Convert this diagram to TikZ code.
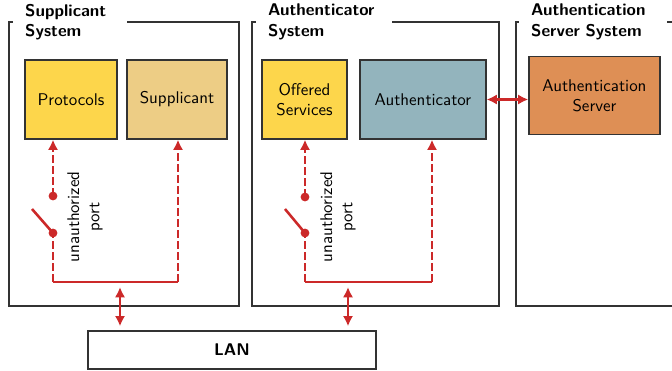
\documentclass[tikz,border=0pt]{standalone}
\usetikzlibrary{arrows.meta, positioning, calc}
\definecolor{portred}{RGB}{204,41,41}
\definecolor{sunyellow}{RGB}{253,214,75}
\definecolor{sandbeige}{RGB}{237,205,133}
\definecolor{steelgray}{RGB}{147,180,189}
\definecolor{serverorange}{RGB}{222,143,85}
\definecolor{framegray}{RGB}{51,51,51}

\begin{document}
\begin{tikzpicture}[
    x=0.59pt, y=-0.59pt,
    font=\sffamily,
    % styles
    sysframe/.style={
        draw=framegray, line width=0.8pt, fill=white
    },
    systitle/.style={
        fill=white, font=\sffamily\bfseries, align=left, anchor=west, inner xsep=7pt, inner ysep=1pt
    },
    unit/.style={
        draw=framegray, line width=0.8pt, align=center, minimum height=46.6pt
    },
    port_flow/.style={
        portred, line width=1.5pt, dash pattern=on 4.5pt off 2pt, -{Latex[length=6pt,width=6pt]}
    },
    port_line/.style={
        portred, line width=1.5pt
    },
    link/.style={
        portred, line width=1.5pt, {Latex[length=6pt,width=6pt]}-{Latex[length=6pt,width=6pt]}
    },
    contact/.style={
        fill=portred, portred
    }
]
    \useasboundingbox (0,0) rectangle (672,371);

    % --- SYSTEM FRAMES ---
    \node[sysframe, minimum width=135.7pt, minimum height=167.6pt] (sup_sys) at (124,164) {};
    \node[sysframe, minimum width=145.7pt, minimum height=167.6pt] (auth_sys) at (375.5,164) {};
    \draw[framegray, line width=0.8pt] (672,22) -- (516,22) -- (516,306) -- (672,306);

    \node[systitle, text width=53pt] (sup_title) at (13,22) {Supplicant\\System};
    \node[systitle, text width=66pt] (auth_title) at (256,22) {Authenticator\\System};
    \node[systitle, text width=73pt] (srv_title) at (519,22) {Authentication\\Server System};

    % --- UNITS ---
    \node[unit, fill=sunyellow, minimum width=54.3pt] (protocols) at (71,99.5) {Protocols};
    \node[unit, fill=sandbeige, minimum width=59pt] (supplicant) at (177,99.5) {Supplicant};
    \node[unit, fill=sunyellow, minimum width=50.2pt] (offered) at (304.5,99.5) {Offered\\Services};
    \node[unit, fill=steelgray, minimum width=74.3pt] (authenticator) at (423,99.5) {Authenticator};
    \node[unit, fill=serverorange, minimum width=77.3pt, minimum height=46pt] (auth_server) at (594.5,95.5) {Authentication\\Server};

    \node[unit, minimum width=170pt, minimum height=22.4pt, font=\sffamily\bfseries] (lan) at (232,350) {LAN};

    % --- SUPPLICANT PORT ---
    \coordinate (s_bus_left) at (53,282);
    \coordinate (s_bus_right) at (178,282);
    \coordinate (s_low) at (53,233);
    \coordinate (s_up) at (53,196);
    \coordinate (s_lever) at (32,209);
    \coordinate (s_tap) at (120,282);

    \draw[port_line] (s_bus_left) -- (s_bus_right);
    \draw[port_line, dash pattern=on 4.5pt off 2pt] (s_bus_left) -- (s_low);
    \draw[port_line] (s_lever) -- (s_low);
    \draw[port_flow] (s_up) -- (s_up |- protocols.south);
    \draw[port_flow] (s_bus_right) -- (s_bus_right |- supplicant.south);
    \fill[contact] (s_low) circle (2.6pt);
    \fill[contact] (s_up) circle (2.6pt);
    \node[rotate=90, align=center] (s_port) at (85,217) {unauthorized\\port};
    \draw[link, shorten <=3pt, shorten >=2.4pt] (s_tap) -- (s_tap |- lan.north);

    % --- AUTHENTICATOR PORT ---
    \coordinate (a_bus_left) at (305,282);
    \coordinate (a_bus_right) at (432,282);
    \coordinate (a_low) at (305,233);
    \coordinate (a_up) at (305,197);
    \coordinate (a_lever) at (285,209);
    \coordinate (a_tap) at (348,282);

    \draw[port_line] (a_bus_left) -- (a_bus_right);
    \draw[port_line, dash pattern=on 4.5pt off 2pt] (a_bus_left) -- (a_low);
    \draw[port_line] (a_lever) -- (a_low);
    \draw[port_flow] (a_up) -- (a_up |- offered.south);
    \draw[port_flow] (a_bus_right) -- (a_bus_right |- authenticator.south);
    \fill[contact] (a_low) circle (2.6pt);
    \fill[contact] (a_up) circle (2.6pt);
    \node[rotate=90, align=center] (a_port) at (338,217) {unauthorized\\port};
    \draw[link, shorten <=3pt, shorten >=2.4pt] (a_tap) -- (a_tap |- lan.north);

    % --- SERVER LINK ---
    \draw[link] (authenticator.east) -- (authenticator.east -| auth_server.west);

\end{tikzpicture}
\end{document}
